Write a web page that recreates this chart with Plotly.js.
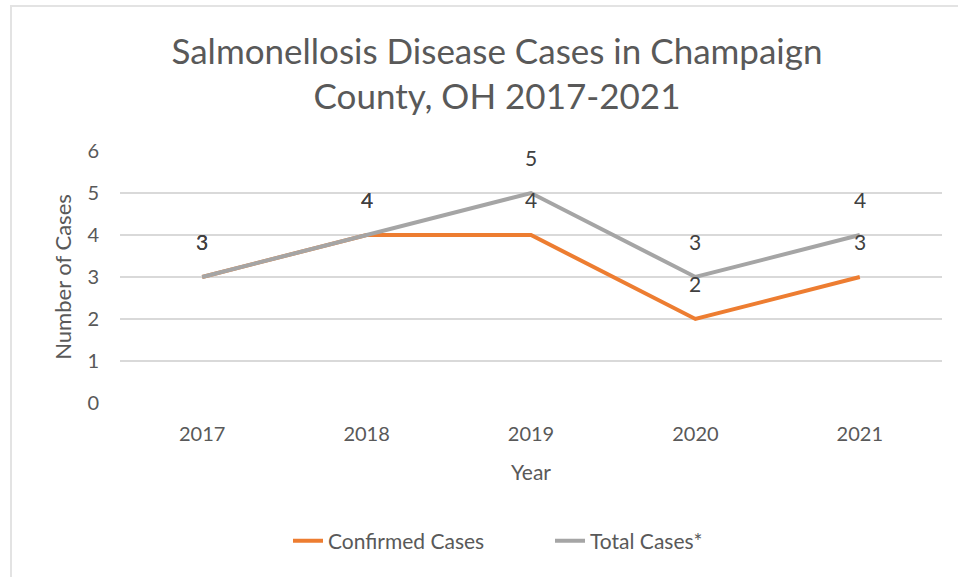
<!DOCTYPE html>
<html>
<head>
<meta charset="utf-8">
<script src="https://cdn.plot.ly/plotly-3.0.1.min.js"></script>
<style>
  html, body { margin: 0; padding: 0; background: #fff; }
  #wrap { position: relative; width: 958px; height: 577px; overflow: hidden; }
  #chart { position: absolute; left: 0; top: 0; width: 958px; height: 577px; }
  #frame { position: absolute; left: 10px; top: 5px; width: 960px; height: 580px;
           border-top: 2px solid #e3e3e3; border-left: 2px solid #e3e3e3; pointer-events: none; }
</style>
</head>
<body>
<div id="wrap">
  <div id="chart"></div>
  <div id="frame"></div>
</div>
<script>
const years = ["2017", "2018", "2019", "2020", "2021"];
const confirmedCases = [3, 4, 4, 2, 3];
const totalCases = [3, 4, 5, 3, 4];
const seriesNames = ["Confirmed Cases", "Total Cases*"];
const yTicks = [0, 1, 2, 3, 4, 5, 6];

const FONT = "Lato, 'Open Sans', sans-serif";
const ORANGE = "#ED7D31";
const GRAY = "#A5A5A5";
const TXT = "#595959";

const traces = [
  { x: years, y: confirmedCases, name: seriesNames[0], type: "scatter", mode: "lines",
    line: { color: ORANGE, width: 4 } },
  { x: years, y: totalCases, name: seriesNames[1], type: "scatter", mode: "lines",
    line: { color: GRAY, width: 4 } }
];

const annotations = [];
[confirmedCases, totalCases].forEach(series => {
  series.forEach((v, i) => {
    annotations.push({ x: i, y: v, xref: "x", yref: "y", text: String(v),
      showarrow: false, yshift: 36, font: { family: FONT, size: 21, color: "#404040" } });
  });
});

const layout = {
  width: 958, height: 577,
  paper_bgcolor: "#ffffff", plot_bgcolor: "#ffffff",
  margin: { l: 120, r: 16, t: 151, b: 174 },
  title: { text: "Salmonellosis Disease Cases in Champaign<br>County, OH 2017-2021",
    x: 497 / 958, xanchor: "center", xref: "container", y: 1 - 63.5 / 577, yanchor: "middle", yref: "container",
    font: { family: FONT, size: 35, color: TXT } },
  xaxis: { type: "category", range: [-0.5, 4.5], showgrid: false, zeroline: false,
    showline: false, ticks: "", ticklabelstandoff: 17,
    tickfont: { family: FONT, size: 20, color: TXT },
    title: { text: "Year", standoff: 21, font: { family: FONT, size: 21, color: TXT } } },
  yaxis: { range: [0, 6], tickvals: yTicks, showgrid: true, gridcolor: "#d9d9d9", gridwidth: 1.5,
    zeroline: false, showline: false, ticks: "", ticklabelstandoff: 20,
    tickfont: { family: FONT, size: 20, color: TXT },
    title: { text: "Number of Cases", standoff: 9, font: { family: FONT, size: 22, color: TXT } } },
  showlegend: true,
  legend: { orientation: "h", x: (288 - 120) / 822, xanchor: "left", y: (403 - 541) / 252, yanchor: "middle",
    font: { family: FONT, size: 21, color: TXT }, entrywidth: 217, entrywidthmode: "pixels" },
  annotations: annotations
};

Plotly.newPlot("chart", traces, layout, { displayModeBar: false, staticPlot: true });
</script>
</body>
</html>
